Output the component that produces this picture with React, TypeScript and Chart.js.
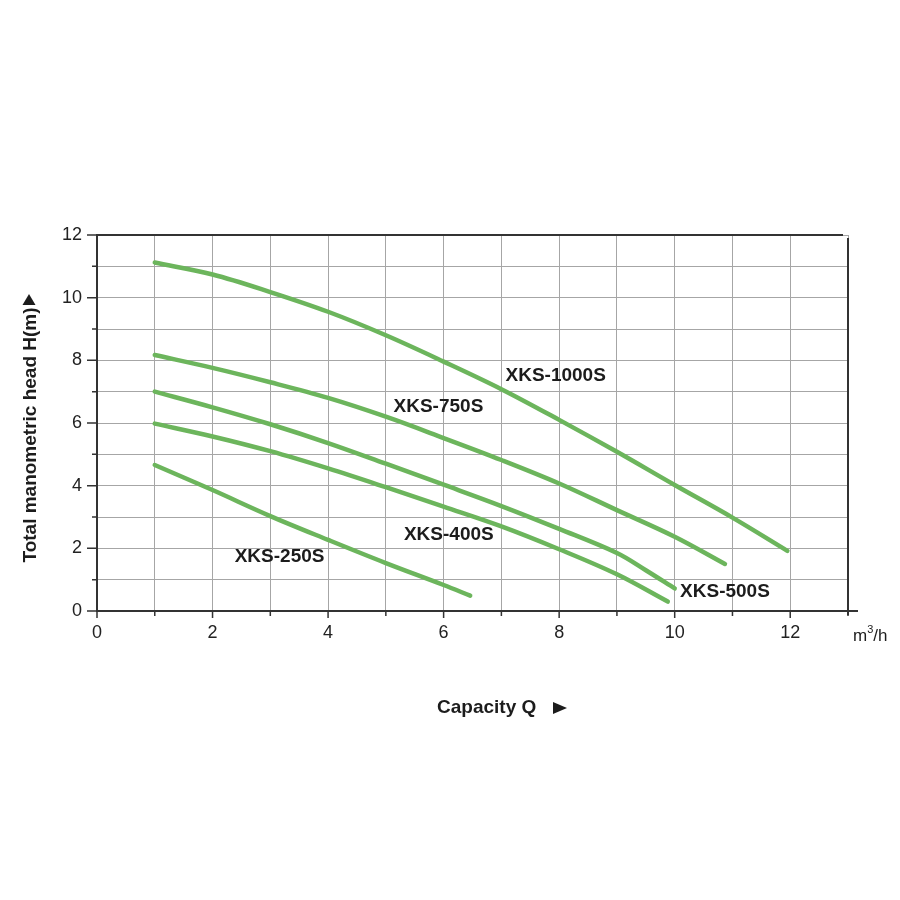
import React, { useEffect, useRef } from "react";
import { Chart, registerables } from "chart.js";

Chart.register(...registerables);

// ---- data (capacity Q in m3/h, head H in m) ----
const q1000 = [1, 2, 3, 4, 5, 6, 7, 8, 9, 10, 11, 11.95];
const h1000 = [11.12, 10.74, 10.18, 9.55, 8.8, 7.96, 7.08, 6.1, 5.08, 4.02, 2.98, 1.92];

const q750 = [1, 2, 3, 4, 5, 6, 7, 8, 9, 10, 10.87];
const h750 = [8.17, 7.76, 7.3, 6.8, 6.2, 5.52, 4.82, 4.07, 3.22, 2.37, 1.5];

const q500 = [1, 2, 3, 4, 5, 6, 7, 8, 9, 9.5, 10];
const h500 = [7.0, 6.5, 5.96, 5.36, 4.7, 4.03, 3.35, 2.62, 1.85, 1.3, 0.72];

const q400 = [1, 2, 3, 4, 5, 6, 7, 8, 9, 9.88];
const h400 = [5.98, 5.57, 5.1, 4.55, 3.95, 3.33, 2.7, 1.97, 1.17, 0.3];

const q250 = [1, 2, 3, 4, 5, 6, 6.46];
const h250 = [4.66, 3.86, 3.03, 2.27, 1.53, 0.83, 0.49];

const seriesNames = ["XKS-1000S", "XKS-750S", "XKS-500S", "XKS-400S", "XKS-250S"];
const seriesQ = [q1000, q750, q500, q400, q250];
const seriesH = [h1000, h750, h500, h400, h250];

// label anchor points (data units)
const labelQ = [7.94, 5.91, 10.87, 6.09, 3.16];
const labelH = [7.5, 6.52, 0.62, 2.43, 1.73];

const xTickLabels = [0, 2, 4, 6, 8, 10, 12];
const yTickLabels = [0, 2, 4, 6, 8, 10, 12];
const xMax = 13;
const yMax = 12;

const xTitle = "Capacity Q";
const yTitle = "Total manometric head H(m)";
const unitBase = "m";
const unitSup = "3";
const unitTail = "/h";

const FONT = "Arial, 'Liberation Sans', sans-serif";
const GREEN = "#6cb55c";
const GRID = "#a6a6a6";
const AXIS = "#333333";
const TEXT = "#1c1c1c";

const decorPlugin = {
  id: "decor",
  afterDraw(chart: any) {
    const { ctx, chartArea } = chart;
    const xs = chart.scales.x;
    const ys = chart.scales.y;
    const { left, right, top, bottom } = chartArea;
    ctx.save();

    // top and right frame
    ctx.strokeStyle = AXIS;
    ctx.lineWidth = 2;
    ctx.beginPath();
    ctx.moveTo(left, top);
    ctx.lineTo(right - 5, top);
    ctx.moveTo(right, top + 3);
    ctx.lineTo(right, bottom + 4);
    ctx.moveTo(right - 2, bottom);
    ctx.lineTo(right + 10, bottom);
    ctx.stroke();

    // outward tick marks
    ctx.lineWidth = 1.5;
    ctx.beginPath();
    for (let v = 0; v <= yMax; v++) {
      const y = ys.getPixelForValue(v);
      const len = v % 2 === 0 ? 10 : 5;
      ctx.moveTo(left, y);
      ctx.lineTo(left - len, y);
    }
    for (let v = 0; v <= xMax; v++) {
      const x = xs.getPixelForValue(v);
      const len = v % 2 === 0 ? 7 : 5;
      ctx.moveTo(x, bottom);
      ctx.lineTo(x, bottom + len);
    }
    ctx.stroke();

    // series labels
    ctx.fillStyle = TEXT;
    ctx.font = `bold 19px ${FONT}`;
    ctx.textAlign = "center";
    ctx.textBaseline = "middle";
    seriesNames.forEach((name, i) => {
      ctx.fillText(name, xs.getPixelForValue(labelQ[i]), ys.getPixelForValue(labelH[i]));
    });

    // x title + arrow
    ctx.textAlign = "left";
    ctx.textBaseline = "alphabetic";
    ctx.fillText(xTitle, 437, 713);
    ctx.beginPath();
    ctx.moveTo(553, 702);
    ctx.lineTo(567, 708);
    ctx.lineTo(553, 714);
    ctx.closePath();
    ctx.fill();

    // y title + arrow
    ctx.save();
    ctx.translate(36, 435);
    ctx.rotate(-Math.PI / 2);
    ctx.textAlign = "center";
    ctx.fillText(yTitle, 0, 0);
    ctx.restore();
    ctx.beginPath();
    ctx.moveTo(29, 294);
    ctx.lineTo(35.5, 305);
    ctx.lineTo(22.5, 305);
    ctx.closePath();
    ctx.fill();

    // unit m3/h
    ctx.font = `17px ${FONT}`;
    ctx.textAlign = "left";
    let ux = right + 5;
    const ub = 641;
    ctx.fillText(unitBase, ux, ub);
    ux += ctx.measureText(unitBase).width;
    ctx.font = `11px ${FONT}`;
    ctx.fillText(unitSup, ux, ub - 8);
    ux += ctx.measureText(unitSup).width;
    ctx.font = `17px ${FONT}`;
    ctx.fillText(unitTail, ux, ub);

    ctx.restore();
  },
};

export default function App() {
  const ref = useRef<HTMLCanvasElement>(null);
  useEffect(() => {
    if (!ref.current) return;
    const datasets = seriesNames.map((name, i) => ({
      label: name,
      data: seriesQ[i].map((q, j) => ({ x: q, y: seriesH[i][j] })),
      borderColor: GREEN,
      backgroundColor: GREEN,
      borderWidth: 4.5,
      borderCapStyle: "round" as const,
      borderJoinStyle: "round" as const,
      pointRadius: 0,
      tension: 0.35,
      fill: false,
    }));
    const chart = new Chart(ref.current, {
      type: "line",
      data: { datasets },
      options: {
        animation: false,
        responsive: true,
        maintainAspectRatio: false,
        layout: { padding: { top: 235, right: 52, left: 0, bottom: 0 } },
        plugins: {
          legend: { display: false },
          tooltip: { enabled: false },
          title: { display: false },
        },
        scales: {
          x: {
            type: "linear",
            min: 0,
            max: xMax,
            afterFit: (s: any) => {
              s.height = 289;
            },
            ticks: {
              stepSize: 1,
              autoSkip: false,
              maxRotation: 0,
              padding: 11,
              color: "#222",
              font: { family: FONT, size: 18 },
              callback: (v: any) => (xTickLabels.includes(Number(v)) ? String(v) : ""),
            },
            grid: {
              color: (c: any) => (c.tick && c.tick.value === 0 ? "rgba(0,0,0,0)" : GRID),
              lineWidth: 1,
              drawTicks: false,
            },
            border: { display: true, color: AXIS, width: 2 },
          },
          y: {
            type: "linear",
            min: 0,
            max: yMax,
            afterFit: (s: any) => {
              s.width = 97;
            },
            ticks: {
              stepSize: 1,
              autoSkip: false,
              padding: 15,
              color: "#222",
              font: { family: FONT, size: 18 },
              callback: (v: any) => (yTickLabels.includes(Number(v)) ? String(v) : ""),
            },
            grid: {
              color: (c: any) => (c.tick && c.tick.value === 0 ? "rgba(0,0,0,0)" : GRID),
              lineWidth: 1,
              drawTicks: false,
            },
            border: { display: true, color: AXIS, width: 2 },
          },
        },
      },
      plugins: [decorPlugin],
    });
    return () => chart.destroy();
  }, []);
  return (
    <div style={{ position: "fixed", left: 0, top: 0, width: 900, height: 900, background: "#fff" }}>
      <canvas ref={ref} />
    </div>
  );
}
